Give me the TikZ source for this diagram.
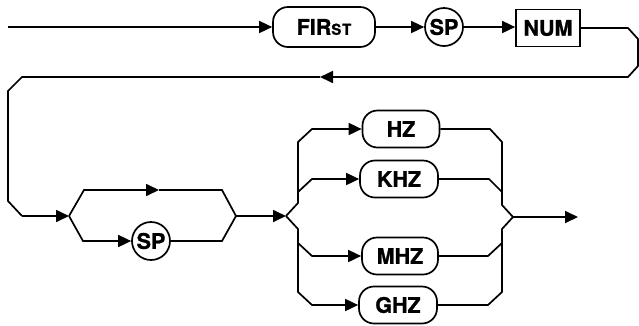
\documentclass[tikz,border=0pt]{standalone}
\usepackage{fontspec}
\setmainfont{TeX Gyre Heros}
\newfontfamily\heavyfont[BoldFeatures={FakeBold=1.2}]{TeX Gyre Heros}
\usetikzlibrary{arrows.meta}
\begin{document}
\begin{tikzpicture}[x=1pt,y=-1pt,
  line width=1.7pt,
  arr/.style={-{Triangle[length=13pt,width=12pt]}},
  lbl/.style={font=\heavyfont\bfseries\fontsize{21.5}{22}\selectfont, inner sep=0pt},
  pill/.style={lbl, draw, rounded corners=15pt, minimum height=37pt},
  ring/.style={lbl, draw, circle, minimum size=38pt},
  boxn/.style={lbl, draw, minimum height=37pt}]
\useasboundingbox (0,0) rectangle (639,325);
% nodes
\node[pill, minimum width=102pt, minimum height=40pt] (first) at (324,27) {FIR{\fontsize{15}{16}\selectfont S\kern0.8pt T}};
\node[ring] (sp1) at (444,27) {SP};
\node[boxn, minimum width=64pt] (num) at (548,28) {NUM};
\node[pill, minimum width=77pt] (hz) at (401,129) {HZ};
\node[pill, minimum width=78pt] (khz) at (399,179) {KHZ};
\node[pill, minimum width=76pt] (mhz) at (400,256) {MHZ};
\node[pill, minimum width=78pt] (ghz) at (398,305) {GHZ};
\node[ring] (sp2) at (151,241) {SP};
% coordinates
\coordinate (start) at (8,27);
\coordinate (ra) at (628,28);
\coordinate (rb) at (638,39);
\coordinate (rc) at (638,66);
\coordinate (rd) at (628,77);
\coordinate (re) at (320,77);
\coordinate (rf) at (22,77);
\coordinate (rg) at (8,91);
\coordinate (rh) at (8,201);
\coordinate (ri) at (22,216);
\coordinate (s1) at (69,216);
\coordinate (ua) at (84,190);
\coordinate (ub) at (159,190);
\coordinate (uc) at (222,190);
\coordinate (j1) at (236,216);
\coordinate (la) at (83,241);
\coordinate (lb) at (222,241);
\coordinate (s2) at (286,216);
\coordinate (ba) at (298,203);
\coordinate (bb) at (298,142);
\coordinate (bc) at (312,129);
\coordinate (bd) at (298,192);
\coordinate (be) at (312,179);
\coordinate (bf) at (298,229);
\coordinate (bg) at (298,292);
\coordinate (bh) at (312,305);
\coordinate (bi) at (298,243);
\coordinate (bj) at (312,256);
\coordinate (ma) at (490,129);
\coordinate (mb) at (502,142);
\coordinate (mc) at (502,205);
\coordinate (j2) at (513,217);
\coordinate (md) at (489,179);
\coordinate (me) at (502,192);
\coordinate (mf) at (488,305);
\coordinate (mg) at (502,292);
\coordinate (mh) at (502,229);
\coordinate (mi) at (488,256);
\coordinate (mj) at (502,243);
\coordinate (end) at (578,217);
% top row
\draw[arr] (start) -- (first.west);
\draw[arr] (first.east) -- (sp1.west);
\draw[arr] (sp1.east) -- (sp1.east -| num.west);
% return
\draw[arr] (num.east) -- (ra) -- (rb) -- (rc) -- (rd) -- (re);
\draw (re) -- (rf) -- (rg) -- (rh) -- (ri);
\draw[arr] (ri) -- (s1);
% optional SP
\draw[arr] (s1) -- (ua) -- (ub);
\draw (ub) -- (uc) -- (j1);
\draw[arr] (s1) -- (la) -- (sp2.west);
\draw (sp2.east) -- (lb) -- (j1);
\draw[arr] (j1) -- (s2);
% units
\draw[arr] (s2) -- (ba) -- (bb) -- (bc) -- (hz.west);
\draw[arr] (bd) -- (be) -- (khz.west);
\draw[arr] (s2) -- (bf) -- (bg) -- (bh) -- (ghz.west);
\draw[arr] (bi) -- (bj) -- (mhz.west);
\draw (hz.east) -- (ma) -- (mb) -- (mc) -- (j2);
\draw (khz.east) -- (md) -- (me);
\draw (ghz.east) -- (mf) -- (mg) -- (mh) -- (j2);
\draw (mhz.east) -- (mi) -- (mj);
\draw[arr] (j2) -- (end);
\end{tikzpicture}
\end{document}
